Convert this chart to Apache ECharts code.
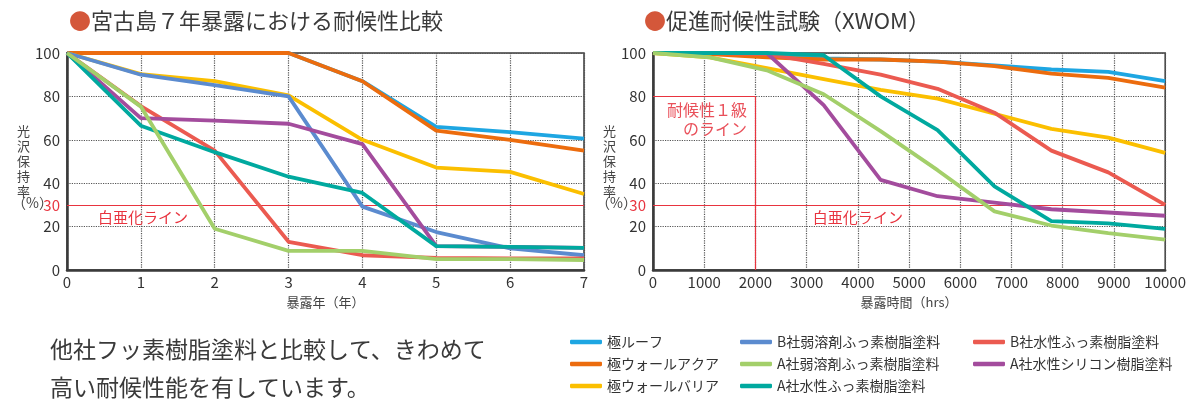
<!DOCTYPE html>
<html><head><meta charset="utf-8">
<script src="https://cdn.jsdelivr.net/npm/echarts@6/dist/echarts.min.js"></script>
<style>html,body{margin:0;padding:0;background:#fff}#c{width:1189px;height:405px}</style>
</head><body><div id="c"></div>
<script>
// ---- categories / names ----
const seriesNames = ['極ルーフ','極ウォールアクア','極ウォールバリア','B社弱溶剤ふっ素樹脂塗料','A社弱溶剤ふっ素樹脂塗料','A社水性ふっ素樹脂塗料','B社水性ふっ素樹脂塗料','A社水性シリコン樹脂塗料'];
const seriesColors = ['#1ea6e2','#ec6c0e','#fbbf00','#5b8bcf','#a3cf6a','#00a99f','#eb5a50','#a34c9d'];
// ---- left chart: 宮古島7年暴露 (x = years) ----
const yearsX = [0,1,2,3,4,5,6,7];
const L_roof     = [100,100,100,100,87,66,63.5,60.5];
const L_aqua     = [100,100,100,100,87,64.2,60,55];
const L_barrier  = [100,90.3,87,80.5,60,47.2,45.2,35];
const L_bSolvent = [100,90,85.2,80,29.2,17.5,10,6.8];
const L_aSolvent = [100,75.3,19,8.8,8.8,5,5,4.6];
const L_aWaterF  = [100,66.5,54.3,43,35.5,11,10.7,10.2];
const L_bWaterF  = [100,75.5,55,13,6.8,5.6,5.3,5.3];
const L_aSilicon = [100,70,68.8,67.4,58,11,10.7,10.2];
// ---- right chart: XWOM (x = hours) ----
const hoursX = [0,1111,2222,3333,4444,5556,6667,7778,8889,10000];
const R_roof     = [100,99.7,99,97.5,97,96,94.3,92.4,91.3,87];
const R_aqua     = [100,99.5,98,97,97,96,94,90.5,88.5,84];
const R_barrier  = [100,98,93,88,83,79,72,65,61,54];
const R_aSolvent = [100,98,92,81,64,46,27,20.5,17,14];
const R_aWaterF  = [100,100,100,99,80,64.5,38.5,22.5,21.5,19];
const R_bWaterF  = [100,100,99.5,95,90,83.5,72.5,55,45,30];
const R_aSilicon = [100,100,100,76,41.5,34,31,28,26.5,25];
// ---- ticks / reference lines ----
const yearTicks = {min:0, max:7, interval:1};
const hourTicks = {min:0, max:10000, interval:1000};
const yTicks = {min:0, max:100, interval:20};
const chalkLevel = 30;
const grade1 = {hours:2000, level:80};

const leftSets  = [L_roof,L_aqua,L_barrier,L_bSolvent,L_aSolvent,L_aWaterF,L_bWaterF,L_aSilicon];
const rightSets = [R_roof,R_aqua,R_barrier,null,R_aSolvent,R_aWaterF,R_bWaterF,R_aSilicon];
const drawOrder = [0,1,2,3,6,7,5,4];

const FONT = '"Noto Sans CJK JP","Noto Sans",sans-serif';
const RED = '#e8343f';
const zip = (xs, ys) => xs.map((x,i)=>[x, ys[i]]);

const series = [];
drawOrder.forEach((k, zi) => {
  series.push({
    name: seriesNames[k], type:'line', xAxisIndex:0, yAxisIndex:0,
    data: zip(yearsX, leftSets[k]), symbol:'none', z: 3+zi,
    lineStyle:{width:3.8, color:seriesColors[k]}, itemStyle:{color:seriesColors[k]}
  });
  if (rightSets[k]) series.push({
    name: seriesNames[k], type:'line', xAxisIndex:1, yAxisIndex:1,
    data: zip(hoursX, rightSets[k]), symbol:'none', z: 3+zi,
    lineStyle:{width:3.8, color:seriesColors[k]}, itemStyle:{color:seriesColors[k]}
  });
});
// annotation series
const chalkLine = (xi, labelX) => ({
  type:'line', xAxisIndex:xi, yAxisIndex:xi, data:[], z:2, silent:true,
  markLine:{silent:true, symbol:'none', animation:false,
    lineStyle:{color:RED, width:1.2, type:'solid'},
    label:{show:true, position:'start', formatter:String(chalkLevel), color:RED, fontSize:15, fontFamily:FONT, distance:7},
    data:[{yAxis:chalkLevel}]},
  markPoint:{silent:true, symbol:'rect', symbolSize:1, itemStyle:{color:'rgba(0,0,0,0)'}, animation:false,
    label:{show:true, position:'inside', offset:[0,12], formatter:'白亜化ライン', color:RED, fontSize:15, fontFamily:FONT},
    data:[{coord:[labelX, chalkLevel]}]}
});
series.push(chalkLine(0, 1.03));
const rc = chalkLine(1, 4000);
rc.markLine.data.push([{coord:[0,grade1.level]},{coord:[grade1.hours,grade1.level]}]);
rc.markLine.data.push([{coord:[grade1.hours,grade1.level]},{coord:[grade1.hours,0]}]);
rc.markLine.data[1][0].label = {show:false};
rc.markLine.data[2][0].label = {show:false};
rc.markPoint.data.push({coord:[grade1.hours, grade1.level],
  label:{show:true, position:'left', distance:8, offset:[0,23], formatter:'耐候性１級\nのライン', color:'#e9505a', fontSize:16, lineHeight:19, align:'right', fontFamily:FONT}});
series.push(rc);

const mkX = (gi, t, name) => ({
  type:'value', gridIndex:gi, min:t.min, max:t.max, interval:t.interval,
  name, nameLocation:'middle', nameGap:26, nameTextStyle:{fontSize:13, color:'#444', fontFamily:FONT},
  axisLine:{lineStyle:{color:'#3a3a3a', width:2.5}}, axisTick:{show:false},
  axisLabel:{fontSize:15, color:'#333', margin:5, fontFamily:FONT, formatter:(v)=>String(v)},
  splitLine:{show:true, lineStyle:{type:'dotted', color:'#555', width:1.2}}
});
const mkY = (gi) => ({
  type:'value', gridIndex:gi, min:yTicks.min, max:yTicks.max, interval:yTicks.interval,
  name:'光\n沢\n保\n持\n率', nameLocation:'middle', nameRotate:0, nameGap:33,
  nameTextStyle:{fontSize:13, lineHeight:15, color:'#444', fontFamily:FONT, padding:[0,0,10,0]},
  axisLine:{show:true, lineStyle:{color:'#3a3a3a', width:2.5}}, axisTick:{show:false},
  axisLabel:{fontSize:15, color:'#333', margin:7, fontFamily:FONT},
  splitLine:{show:true, lineStyle:{type:'dotted', color:'#555', width:1.2}}
});

const legendBase = {orient:'vertical', icon:'roundRect', itemWidth:32, itemHeight:4.5, itemGap:8, selectedMode:false,
  textStyle:{fontSize:14, color:'#333', fontFamily:FONT}, top:330};

const titleRich = (t) => ({text:'{c|●}{t|'+t+'}', textStyle:{fontWeight:'normal', rich:{
  c:{fontSize:22, color:'#d4573a', fontFamily:FONT, fontWeight:'normal'},
  t:{fontSize:22, color:'#3a3a3a', fontFamily:FONT, fontWeight:'normal'}}}});

const option = {
  animation:false,
  textStyle:{fontFamily:FONT},
  title:[Object.assign({left:64, top:5}, titleRich('宮古島７年暴露における耐候性比較')),
         Object.assign({left:639, top:5}, titleRich('促進耐候性試験（XWOM）'))],
  grid:[{left:67, width:517, top:53, height:217, show:true, borderColor:'#3a3a3a', borderWidth:1.5},
        {left:653, width:513, top:53, height:217, show:true, borderColor:'#3a3a3a', borderWidth:1.5}],
  xAxis:[mkX(0, yearTicks, '暴露年（年）'), mkX(1, hourTicks, '暴露時間（hrs）')],
  yAxis:[mkY(0), mkY(1)],
  legend:[Object.assign({left:565, data:seriesNames.slice(0,3)}, legendBase),
          Object.assign({left:735, data:[seriesNames[3],seriesNames[4],seriesNames[5]]}, legendBase),
          Object.assign({left:968, data:[seriesNames[6],seriesNames[7]]}, legendBase)],
  graphic:[
    {type:'text', left:12, top:196, style:{text:'（%）', fontSize:14, fill:'#444', fontFamily:FONT}},
    {type:'text', left:596, top:196, style:{text:'（%）', fontSize:14, fill:'#444', fontFamily:FONT}},
    {type:'text', left:50, top:330, style:{text:'他社フッ素樹脂塗料と比較して、きわめて\n高い耐候性能を有しています。', fontSize:23, lineHeight:38, fill:'#3a3a3a', fontFamily:FONT}}
  ],
  series
};
const chart = echarts.init(document.getElementById('c'));
chart.setOption(option);
</script></body></html>
